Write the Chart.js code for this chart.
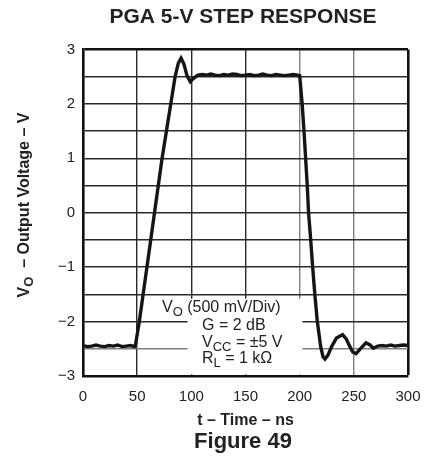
<!DOCTYPE html>
<html>
<head>
<meta charset="utf-8">
<script src="https://cdn.jsdelivr.net/npm/chart.js@4/dist/chart.umd.min.js"></script>
<style>
  html,body{margin:0;padding:0;background:#fff;}
  #wrap{width:430px;height:462px;position:relative;}
</style>
</head>
<body>
<div id="wrap"><canvas id="c" width="430" height="462"></canvas></div>
<script>
// ---- data ----
const timeNs = [0,4,8,12,16,20,24,28,32,36,40,44,47.5,
  48.5,52,55.5,59,62.5,66,69.5,73,77,81,85,88,90.5,93,96,99,102,106,
  110,114,118,122,126,130,134,138,142,146,150,154,158,162,166,170,174,178,182,186,190,194,198,
  200,202.3,204,205.5,207,208.2,210.2,212,214,216.3,219.4,221.6,223.4,226,229.5,234,239.6,243,246.4,249,252,256,261.2,265,268,272,
  276,280,284,288,292,296,300];
const voltage = [-2.44,-2.46,-2.45,-2.43,-2.45,-2.46,-2.44,-2.45,-2.43,-2.46,-2.45,-2.44,-2.46,
  -2.42,-2.0,-1.5,-1.0,-0.5,0.0,0.5,1.0,1.5,2.0,2.5,2.75,2.84,2.74,2.52,2.41,2.47,2.53,
  2.54,2.53,2.55,2.53,2.52,2.54,2.53,2.55,2.54,2.52,2.53,2.54,2.52,2.53,2.55,2.53,2.52,2.54,2.53,2.52,2.53,2.54,2.53,
  2.52,2.0,1.5,1.0,0.5,0.0,-0.5,-1.0,-1.5,-2.0,-2.46,-2.65,-2.69,-2.62,-2.46,-2.3,-2.24,-2.32,-2.46,-2.56,-2.59,-2.5,-2.39,-2.43,-2.49,-2.45,
  -2.44,-2.45,-2.43,-2.45,-2.44,-2.43,-2.44];
const xTicks = [0,50,100,150,200,250,300];
const yTicks = [-3,-2,-1,0,1,2,3];
const titleText = 'PGA 5-V STEP RESPONSE';
const xTitle = 't – Time – ns';
const figureText = 'Figure 49';

const FONT = "'Liberation Sans', Arial, Helvetica, sans-serif";

function drawRich(ctx, parts, x, y) {
  let cx = x;
  for (const p of parts) {
    ctx.font = (p.bold ? 'bold ' : '') + p.size + 'px ' + FONT;
    ctx.fillText(p.t, cx, y + (p.dy || 0));
    cx += ctx.measureText(p.t).width;
  }
  return cx - x;
}
function richWidth(ctx, parts) {
  let w = 0;
  for (const p of parts) {
    ctx.font = (p.bold ? 'bold ' : '') + p.size + 'px ' + FONT;
    w += ctx.measureText(p.t).width;
  }
  return w;
}

const extras = {
  id: 'extras',
  beforeDatasetsDraw(chart) {
    const ctx = chart.ctx;
    const xs = chart.scales.x, ys = chart.scales.y;
    // white box behind the condition notes
    const bx0 = xs.getPixelForValue(96.5), bx1 = xs.getPixelForValue(202.5);
    const by0 = ys.getPixelForValue(-1.58), by1 = ys.getPixelForValue(-2.97);
    ctx.save();
    ctx.fillStyle = '#fff';
    ctx.fillRect(bx0, by0, bx1 - bx0, by1 - by0);
    ctx.restore();
  },
  afterDraw(chart) {
    const ctx = chart.ctx;
    ctx.save();
    ctx.fillStyle = '#222';
    // title and figure caption
    ctx.textAlign = 'center';
    ctx.textBaseline = 'middle';
    ctx.font = 'bold 21px ' + FONT;
    ctx.fillText(titleText, 243, 17);
    ctx.font = 'bold 22px ' + FONT;
    ctx.fillText(figureText, 243, 442);
    ctx.textBaseline = 'alphabetic';
    ctx.textAlign = 'left';
    // notes
    drawRich(ctx, [{t:'V',size:16},{t:'O',size:13,dy:4},{t:' (500 mV/Div)',size:16}], 162, 312);
    drawRich(ctx, [{t:'G = 2 dB',size:16}], 202, 330);
    drawRich(ctx, [{t:'V',size:16},{t:'CC',size:13,dy:4},{t:' = ±5 V',size:16}], 202, 346.5);
    drawRich(ctx, [{t:'R',size:16},{t:'L',size:13,dy:4},{t:' = 1 kΩ',size:16}], 202, 363);
    // y-axis title, rotated
    const yParts = [{t:'V',size:16,bold:true},{t:'O',size:13,bold:true,dy:4},{t:'  – Output Voltage – V',size:16,bold:true}];
    const w = richWidth(ctx, yParts);
    ctx.translate(29, 205);
    ctx.rotate(-Math.PI/2);
    drawRich(ctx, yParts, -w/2, 0);
    ctx.restore();
  }
};

const gridColorX = ['#111','#2a2a2a','#2a2a2a','#2a2a2a','#808080','#808080','#111'];
const gridColorY = (i) => (i === 1 ? '#808080' : (i === 12 ? '#111' : '#2a2a2a'));

new Chart(document.getElementById('c'), {
  type: 'line',
  data: {
    datasets: [{
      data: timeNs.map((t, i) => ({x: t, y: voltage[i]})),
      borderColor: '#151515',
      borderWidth: 3.4,
      pointRadius: 0,
      tension: 0,
      fill: false
    }]
  },
  options: {
    responsive: false,
    animation: false,
    devicePixelRatio: 1,
    layout: {padding: {left: 0, right: 22, top: 49.5, bottom: 31.4}},
    plugins: {
      legend: {display: false},
      tooltip: {enabled: false},
      title: {display: false},
      subtitle: {display: false}
    },
    scales: {
      x: {
        type: 'linear', min: 0, max: 300,
        afterBuildTicks: (s) => { s.ticks = xTicks.map(v => ({value: v})); },
        afterFit: (s) => { s.height = 54.6; s.paddingLeft = 0; s.paddingRight = 0; },
        ticks: {color: '#222', font: {family: FONT, size: 15}, padding: 12, maxRotation: 0, autoSkip: false},
        grid: {drawTicks: false, color: (c) => gridColorX[c.index] || '#2a2a2a', lineWidth: (c) => c.index === 6 ? 2.6 : 1.4},
        border: {color: '#111', width: 2.6},
        title: {display: true, text: xTitle, color: '#222', font: {family: FONT, size: 16, weight: 'bold'}, padding: 0}
      },
      y: {
        type: 'linear', min: -3, max: 3,
        afterBuildTicks: (s) => { const a = []; for (let v = -3; v <= 3.001; v += 0.5) a.push({value: Math.round(v*2)/2}); s.ticks = a; },
        afterFit: (s) => { s.width = 83; },
        ticks: {
          color: '#222', font: {family: FONT, size: 15}, padding: 8, autoSkip: false,
          callback: (v) => yTicks.includes(v) ? (v < 0 ? '−' + Math.abs(v) : String(v)) : ''
        },
        grid: {drawTicks: false, color: (c) => gridColorY(c.index), lineWidth: (c) => c.index === 12 ? 2.6 : 1.4},
        border: {color: '#111', width: 2.6}
      }
    }
  },
  plugins: [extras]
});
</script>
</body>
</html>
